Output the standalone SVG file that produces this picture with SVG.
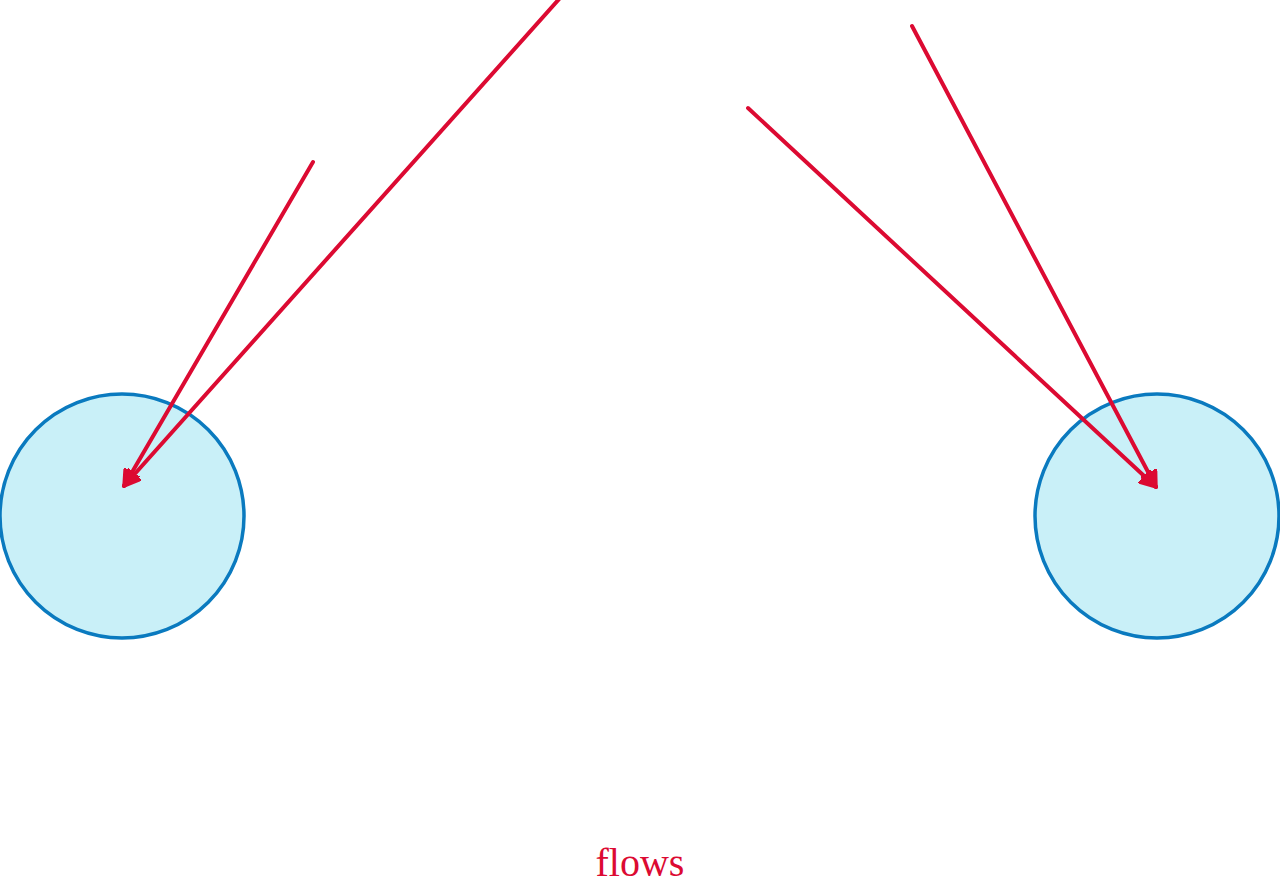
<svg xmlns="http://www.w3.org/2000/svg" width="1280" height="883" viewBox="0 0 1280 883">
<style>
.node{fill:#c9f0f8;stroke:#0a7abf;stroke-width:3.5}
.edge{stroke:#dc0a32;stroke-width:4;stroke-linecap:round;fill:none}
.lbl{font-family:"Liberation Serif",serif;font-size:40px;fill:#dc0a32}
</style>
<defs>
<marker id="ah" viewBox="0 0 10 10" refX="9" refY="5" markerWidth="4.5" markerHeight="4.5" orient="auto" markerUnits="strokeWidth">
<path d="M0,0 L10,5 L0,10 z" fill="#dc0a32" stroke="#dc0a32" stroke-width="1" stroke-linejoin="round"/>
</marker>
</defs>
<rect width="1280" height="883" fill="#ffffff"/>
<g id="node-left"><circle class="node" cx="122" cy="516" r="122"/></g>
<g id="node-right"><circle class="node" cx="1157" cy="516" r="122"/></g>
<g id="connectors">
<line class="edge" x1="313" y1="162" x2="124" y2="486" marker-end="url(#ah)"/>
<line class="edge" x1="560" y1="-2" x2="124" y2="486" marker-end="url(#ah)"/>
<line class="edge" x1="748" y1="108" x2="1156" y2="487" marker-end="url(#ah)"/>
<line class="edge" x1="912" y1="26" x2="1156" y2="487" marker-end="url(#ah)"/>
</g>
<text class="lbl" x="640" y="876" text-anchor="middle">flows</text>
</svg>
